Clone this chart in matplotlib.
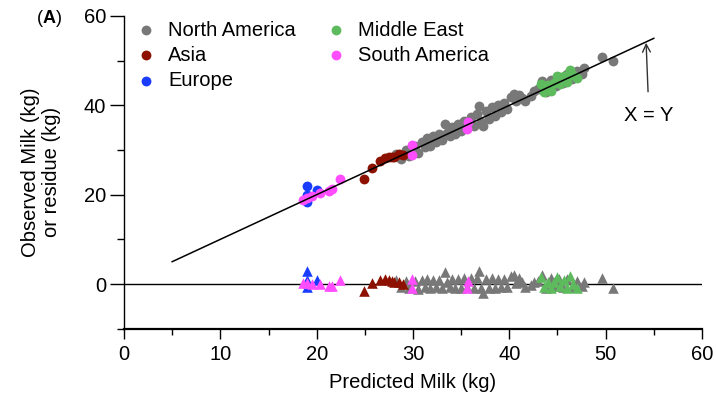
import matplotlib
matplotlib.use("Agg")
import matplotlib.pyplot as plt
import numpy as np

plt.rcParams['font.family'] = ['Liberation Sans', 'DejaVu Sans']

# Predicted vs observed milk yield (kg) by region
na_pred = [28.2, 28.8, 29.3, 29.6, 30.2, 30.5, 30.9, 31.2, 31.5, 31.8, 32.1, 32.4,
           32.7, 33.0, 33.3, 33.5, 33.8, 34.1, 34.4, 34.7, 35.0, 35.3, 35.6, 36.0,
           36.3, 36.6, 36.9, 37.1, 37.3, 37.6, 37.9, 38.2, 38.5, 38.8, 39.1, 39.5,
           39.8, 40.2, 40.5, 40.7, 41.0, 41.3, 41.6, 42.2, 42.6, 43.0, 43.4, 43.8,
           44.3, 44.8, 45.2, 45.6, 46.0, 46.5, 47.0, 47.5, 47.8, 49.6, 50.8]
na_obs = [29.0, 28.1, 29.9, 28.6, 30.9, 29.4, 31.8, 30.6, 32.6, 31.0, 33.1, 31.7,
          33.6, 32.2, 35.9, 33.9, 33.1, 35.2, 33.6, 35.8, 34.2, 36.6, 35.0, 37.4,
          35.4, 38.0, 39.9, 36.2, 35.3, 38.8, 37.0, 39.6, 37.7, 40.0, 38.4, 40.6,
          39.2, 41.9, 42.6, 41.0, 42.3, 41.7, 40.9, 42.0, 43.1, 43.6, 45.4, 42.9,
          45.6, 44.4, 46.3, 45.0, 47.1, 45.9, 47.6, 47.0, 48.3, 50.9, 49.9]

asia_pred = [24.9, 25.7, 26.6, 27.1, 27.5, 27.8, 28.0, 28.5, 29.0]
asia_obs = [23.4, 26.0, 27.6, 28.3, 28.4, 28.4, 28.4, 29.0, 28.9]

eu_pred = [19.0, 19.0, 19.0, 20.0]
eu_obs = [22.0, 20.0, 18.3, 21.0]

me_pred = [43.3, 43.6, 44.0, 44.3, 44.6, 45.0, 45.3, 45.7, 46.0, 46.3, 46.6, 47.0]
me_obs = [44.8, 43.0, 44.5, 43.3, 45.0, 46.5, 44.8, 46.6, 45.2, 48.0, 46.7, 46.1]

sa_pred = [18.6, 19.0, 19.5, 20.3, 21.3, 21.6, 22.4, 29.9, 29.9, 35.6, 35.7]
sa_obs = [18.9, 19.3, 19.6, 20.4, 20.8, 21.2, 23.4, 31.1, 28.9, 34.6, 36.3]

regions = [
    ("North America", na_pred, na_obs, "#787878"),
    ("Asia", asia_pred, asia_obs, "#8c1100"),
    ("Europe", eu_pred, eu_obs, "#1a3cff"),
    ("Middle East", me_pred, me_obs, "#5dbb5d"),
    ("South America", sa_pred, sa_obs, "#ff4dff"),
]

FS = 14.5

fig = plt.figure(figsize=(7.16, 3.99), dpi=100)
ax = fig.add_axes([0.1732, 0.1762, 0.8072, 0.7837])

handles = {}
for name, pred, obs, color in regions:
    pred = np.asarray(pred)
    obs = np.asarray(obs)
    resid = obs - pred
    h = ax.scatter(pred, obs, s=50, color=color, marker='o', linewidths=0, zorder=3)
    ax.scatter(pred, resid, s=58, color=color, marker='^', linewidths=0, zorder=3)
    handles[name] = h

# identity line and zero-residual line
ax.plot([5, 55], [5, 55], color='black', lw=1.1, zorder=4)
ax.axhline(0, color='black', lw=1.0, zorder=2)

ax.annotate('X = Y', xy=(54.2, 54.0), xytext=(54.5, 37.8),
            ha='center', va='center', fontsize=FS,
            arrowprops=dict(arrowstyle='->', color='#333333', lw=1.0,
                            shrinkA=8, shrinkB=0, mutation_scale=14))

ax.set_xlim(0, 60)
ax.set_ylim(-10, 60)
ax.set_xticks(range(0, 61, 10))
ax.set_xticks(range(5, 60, 10), minor=True)
ax.set_yticks([0, 20, 40, 60])
ax.set_yticks([-10, 10, 30, 50], minor=True)

for side in ('top', 'right'):
    ax.spines[side].set_visible(False)
ax.spines['left'].set_linewidth(1.0)
ax.spines['bottom'].set_linewidth(1.6)
ax.tick_params(axis='y', which='major', length=10, width=1.0, labelsize=FS, pad=3)
ax.tick_params(axis='y', which='minor', length=5, width=1.0)
ax.tick_params(axis='x', which='major', length=7, width=1.0, labelsize=FS, pad=5)
ax.tick_params(axis='x', which='minor', length=4, width=1.0)

ax.set_xlabel('Predicted Milk (kg)', fontsize=FS, labelpad=6)
ax.set_ylabel('Observed Milk (kg)\nor residue (kg)', fontsize=FS, labelpad=16,
              linespacing=1.15)

order = ["North America", "Asia", "Europe", "Middle East", "South America"]
leg = ax.legend([handles[n] for n in order], order, ncol=2, loc='upper left',
                bbox_to_anchor=(-0.014, 1.03), frameon=False, fontsize=FS,
                handletextpad=0.3, columnspacing=1.2, labelspacing=0.3,
                markerscale=1.0, borderaxespad=0.3, handlelength=1.6)

fig.text(0.051, 0.953, '(', fontsize=13, ha='left', va='center')
fig.text(0.059, 0.953, 'A', fontsize=13, fontweight='bold', ha='left', va='center')
fig.text(0.0775, 0.953, ')', fontsize=13, ha='left', va='center')

fig.savefig('out.png', dpi=100)
